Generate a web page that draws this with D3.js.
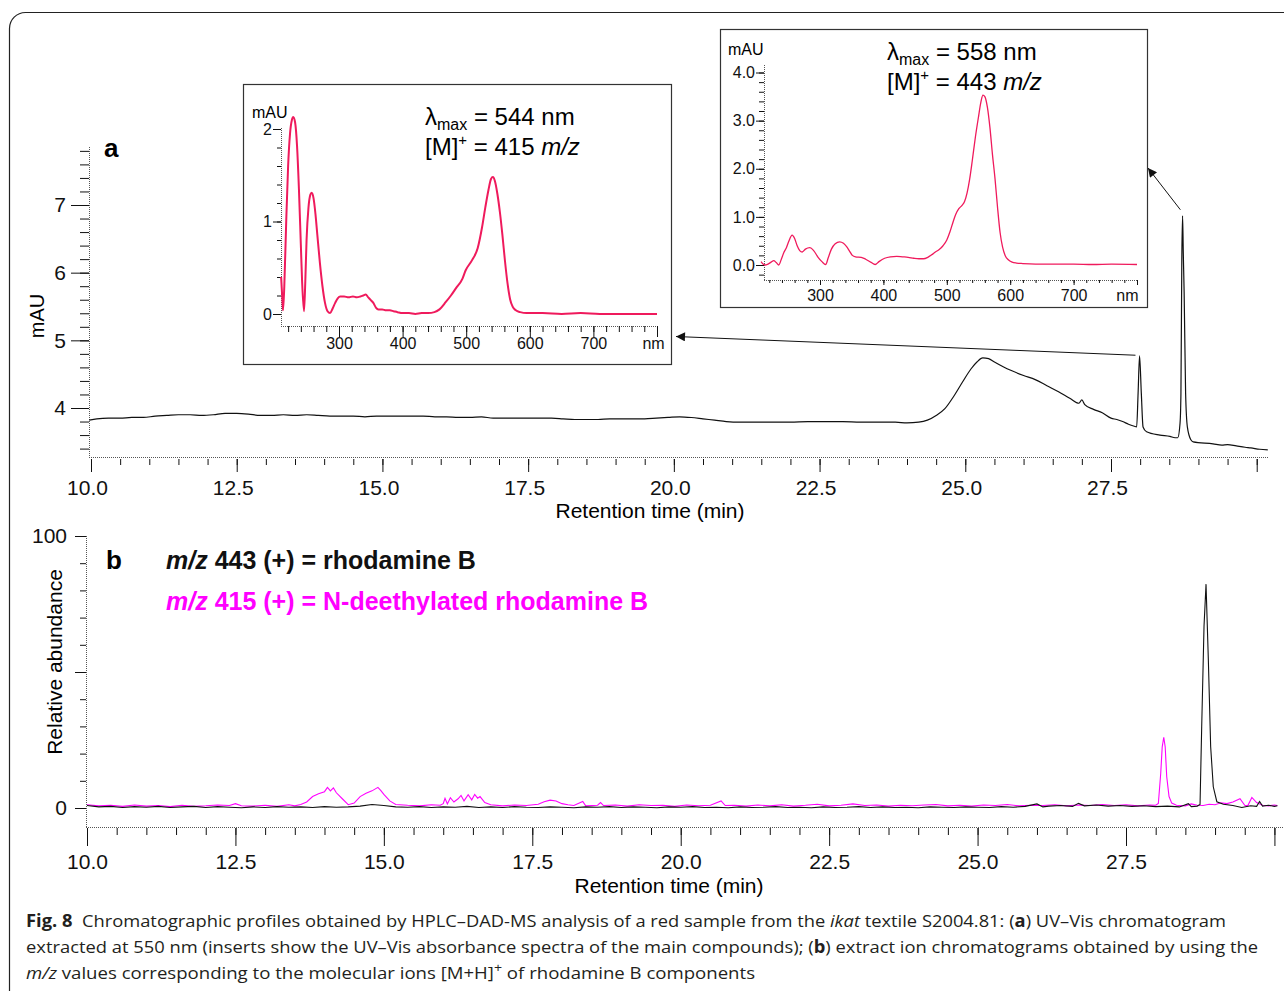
<!DOCTYPE html>
<html>
<head>
<meta charset="utf-8">
<script src="https://cdn.jsdelivr.net/npm/d3@7"></script>
<style>
  body { margin: 0; background: #fff; }
  svg { display: block; font-family: 'Liberation Sans', Arial, sans-serif; }
</style>
</head>
<body>
<script>
// (a) UV-Vis chromatogram at 550 nm: [retention time (min), mAU]
const chrom550 = [
  [9.97,3.82],[10.1,3.84],[10.3,3.85],[10.5,3.85],[10.7,3.86],[10.9,3.86],[11.1,3.88],[11.3,3.89],
  [11.5,3.90],[11.7,3.90],[11.9,3.89],[12.1,3.90],[12.3,3.92],[12.5,3.92],[12.7,3.91],[12.9,3.89],
  [13.1,3.89],[13.3,3.90],[13.5,3.89],[13.7,3.90],[13.9,3.89],[14.1,3.88],[14.3,3.88],[14.5,3.88],
  [14.7,3.87],[14.9,3.88],[15.1,3.88],[15.3,3.88],[15.5,3.88],[15.7,3.88],[15.9,3.87],[16.1,3.87],
  [16.3,3.86],[16.5,3.86],[16.7,3.87],[16.9,3.85],[17.1,3.85],[17.3,3.85],[17.5,3.85],[17.7,3.85],
  [17.9,3.85],[18.1,3.84],[18.3,3.83],[18.5,3.83],[18.7,3.83],[18.9,3.84],[19.1,3.84],[19.3,3.84],
  [19.5,3.84],[19.7,3.85],[19.9,3.86],[20.1,3.87],[20.3,3.86],[20.5,3.84],[20.7,3.82],[20.9,3.80],
  [21.1,3.79],[21.4,3.79],[21.7,3.79],[22.0,3.79],[22.3,3.80],[22.6,3.80],[22.9,3.80],[23.2,3.79],
  [23.5,3.79],[23.8,3.79],[24.0,3.78],[24.2,3.79],[24.35,3.82],[24.5,3.89],[24.65,3.99],[24.8,4.17],
  [24.95,4.38],[25.1,4.58],[25.2,4.68],[25.3,4.74],[25.4,4.73],[25.5,4.68],[25.65,4.61],[25.8,4.55],
  [26.0,4.48],[26.2,4.42],[26.4,4.33],[26.6,4.24],[26.8,4.14],[26.95,4.07],[27.0,4.12],[27.05,4.05],
  [27.2,3.98],[27.35,3.93],[27.5,3.85],[27.6,3.83],[27.7,3.80],[27.8,3.76],[27.9,3.73],[27.94,3.72],
  [27.965,4.22],[27.99,4.77],[28.02,4.22],[28.05,3.72],[28.11,3.65],[28.34,3.60],[28.51,3.58],
  [28.6,3.56],[28.645,3.56],[28.685,3.78],[28.70,4.22],[28.715,6.2],[28.728,6.84],[28.74,6.3],
  [28.755,5.7],[28.78,4.22],[28.81,3.72],[28.87,3.53],[28.91,3.50],[29.25,3.47],[29.4,3.45],
  [29.5,3.46],[29.65,3.44],[29.8,3.42],[29.9,3.41],[30.05,3.39],[30.19,3.38]
]

// insert spectra: [wavelength (nm), mAU]
const spec415 = [
  [209,0.40],[211,0.15],[212,0.04],[214,0.3],[217,1.0],[220,1.6],[223,1.95],[226,2.1],[228,2.13],
  [231,2.07],[234,1.82],[237,1.35],[240,0.75],[242,0.35],[245,0.03],[247,0.35],[249,0.8],[252,1.15],
  [255,1.29],[257,1.31],[260,1.25],[263,1.08],[266,0.85],[270,0.55],[274,0.3],[278,0.12],[282,0.03],
  [286,0.01],[290,0.06],[294,0.12],[298,0.17],[302,0.19],[308,0.19],[315,0.18],[322,0.19],[328,0.18],
  [334,0.19],[338,0.2],[342,0.21],[346,0.18],[350,0.15],[354,0.12],[358,0.07],[362,0.05],[368,0.05],
  [374,0.04],[380,0.04],[386,0.03],[392,0.02],[400,0.01],[410,0.01],[420,0.0],[430,0.01],[440,0.01],
  [450,0.02],[458,0.05],[468,0.13],[476,0.2],[484,0.28],[494,0.38],[499,0.47],[509,0.58],[518,0.71],
  [525,0.94],[530,1.15],[535,1.34],[539,1.46],[542,1.48],[545,1.44],[549,1.3],[553,1.1],[557,0.85],
  [561,0.57],[565,0.33],[569,0.16],[573,0.08],[578,0.04],[585,0.02],[595,0.01],[620,0.01],[650,0.0],
  [680,0.01],[710,0.0],[740,0.0],[770,0.0],[800,0.0]
]
const spec443 = [
  [207,0.07],[210,0.02],[213,0.0],[218,0.02],[223,0.06],[227,0.09],[231,0.05],[235,0.0],[239,0.12],
  [243,0.26],[247,0.36],[251,0.5],[256,0.62],[260,0.55],[264,0.4],[268,0.3],[272,0.27],[277,0.33],
  [284,0.36],[290,0.3],[297,0.16],[303,0.07],[309,0.01],[313,0.15],[318,0.33],[324,0.44],[331,0.48],
  [337,0.45],[342,0.38],[347,0.28],[351,0.2],[356,0.17],[365,0.16],[372,0.12],[380,0.06],[387,0.01],
  [393,0.07],[402,0.14],[411,0.17],[421,0.18],[430,0.17],[439,0.16],[448,0.14],[456,0.13],[463,0.13],
  [470,0.16],[476,0.21],[482,0.27],[488,0.32],[494,0.4],[500,0.52],[505,0.69],[510,0.9],[514,1.05],
  [519,1.17],[524,1.24],[528,1.32],[532,1.5],[536,1.78],[540,2.15],[545,2.65],[550,3.08],[554,3.4],
  [557,3.53],[560,3.5],[564,3.28],[568,2.86],[572,2.3],[576,1.8],[580,1.2],[584,0.68],[588,0.37],
  [592,0.2],[597,0.11],[603,0.06],[610,0.04],[620,0.03],[640,0.02],[670,0.02],[700,0.02],[730,0.01],
  [760,0.02],[800,0.01]
]

// (b) extracted ion chromatograms: [retention time (min), relative abundance]
const eic443 = [
  [10.0,0.9],[10.2,0.4],[10.4,0.6],[10.6,0.2],[10.8,0.5],[11.0,0.3],[11.2,0.6],[11.4,0.2],[11.6,0.4],
  [11.8,0.6],[12.0,0.2],[12.2,0.5],[12.4,0.3],[12.6,0.1],[12.8,0.4],[13.0,0.2],[13.2,0.5],[13.4,0.3],
  [13.6,0.4],[13.8,0.2],[14.0,0.5],[14.2,0.3],[14.4,0.4],[14.6,0.7],[14.8,1.3],[15.0,0.9],[15.2,0.4],
  [15.4,0.3],[15.6,0.5],[15.8,0.2],[16.0,0.4],[16.2,0.3],[16.4,0.6],[16.6,0.2],[16.8,0.4],[17.0,0.2],
  [17.2,0.5],[17.4,0.3],[17.6,0.2],[17.8,0.4],[18.0,0.3],[18.2,0.1],[18.4,0.4],[18.6,0.3],[18.8,0.5],
  [19.0,0.2],[19.2,0.4],[19.4,0.3],[19.6,0.1],[19.8,0.4],[20.0,0.3],[20.2,0.5],[20.4,0.2],[20.6,0.3],
  [20.8,0.1],[21.0,0.4],[21.2,0.2],[21.4,0.3],[21.6,0.5],[21.8,0.2],[22.0,0.3],[22.2,0.1],[22.4,0.4],
  [22.6,0.2],[22.8,0.3],[23.0,0.5],[23.2,0.2],[23.4,0.4],[23.6,0.2],[23.8,0.3],[24.0,0.1],[24.2,0.4],
  [24.4,0.3],[24.6,0.2],[24.8,0.4],[25.0,0.3],[25.2,0.2],[25.4,0.5],[25.6,0.3],[25.8,0.6],[26.0,1.5],
  [26.1,0.4],[26.2,0.7],[26.4,0.9],[26.6,0.6],[26.7,1.7],[26.8,0.8],[27.0,1.1],[27.2,0.7],[27.4,0.9],
  [27.6,0.6],[27.8,0.8],[28.0,0.5],[28.2,0.7],[28.4,0.4],[28.55,1.6],[28.6,0.5],[28.7,0.7],[28.747,1.3],
  [28.775,29.9],[28.814,66.7],[28.848,82.3],[28.887,54.4],[28.926,22.5],[28.97,7.8],[29.03,2.3],
  [29.14,1.4],[29.3,0.9],[29.45,0.2],[29.6,0.8],[29.7,0.6],[29.75,2.4],[29.8,0.7],[29.9,1.0],[30.0,0.6],
  [30.05,0.8]
]
const eic415 = [
  [10.0,1.2],[10.2,0.8],[10.4,1.0],[10.6,0.6],[10.8,1.1],[11.0,0.7],[11.2,0.9],[11.4,0.5],[11.6,1.0],
  [11.8,0.6],[12.0,0.8],[12.2,1.1],[12.4,0.9],[12.5,1.6],[12.6,0.8],[12.8,0.7],[13.0,1.0],[13.2,0.6],
  [13.4,1.2],[13.5,0.8],[13.6,1.3],[13.7,2.2],[13.8,4.2],[13.9,5.2],[14.0,6.0],[14.05,7.6],[14.1,6.3],
  [14.15,7.4],[14.2,5.6],[14.3,3.4],[14.4,1.2],[14.5,1.8],[14.6,4.2],[14.7,5.4],[14.8,6.3],[14.9,7.6],
  [14.95,6.4],[15.0,5.0],[15.1,2.6],[15.2,1.3],[15.4,1.0],[15.6,0.8],[15.8,1.2],[15.95,1.0],[16.0,1.6],
  [16.03,3.6],[16.07,1.5],[16.12,3.8],[16.18,2.2],[16.25,3.4],[16.3,4.6],[16.35,2.6],[16.42,4.9],
  [16.48,3.0],[16.53,5.0],[16.58,3.6],[16.62,4.2],[16.7,2.0],[16.8,1.2],[17.0,0.8],[17.2,1.1],[17.4,0.9],
  [17.6,1.4],[17.7,2.3],[17.8,2.9],[17.9,2.6],[18.0,1.6],[18.1,1.2],[18.2,0.9],[18.35,2.4],[18.4,0.8],
  [18.6,1.0],[18.65,2.0],[18.7,0.9],[18.9,1.1],[19.1,0.7],[19.3,1.2],[19.5,0.9],[19.7,1.0],[19.9,0.6],
  [20.1,1.1],[20.3,0.8],[20.5,1.0],[20.68,2.6],[20.75,0.9],[20.9,1.0],[21.1,0.7],[21.3,1.1],[21.5,0.8],
  [21.7,1.2],[21.9,0.7],[22.1,1.0],[22.3,1.4],[22.5,0.8],[22.7,1.0],[22.9,1.5],[23.1,0.9],[23.3,1.1],
  [23.5,0.7],[23.7,1.0],[23.9,0.8],[24.1,1.1],[24.3,1.3],[24.5,0.8],[24.7,1.0],[24.9,0.7],[25.1,1.1],
  [25.3,0.9],[25.5,1.3],[25.7,0.8],[25.9,1.0],[26.1,0.9],[26.3,1.2],[26.5,0.8],[26.7,1.1],[26.9,0.9],
  [27.1,1.3],[27.3,0.9],[27.5,1.2],[27.7,0.8],[27.9,1.1],[28.0,1.0],[28.045,1.7],[28.085,12.8],
  [28.11,22.5],[28.136,26.0],[28.16,22.5],[28.186,11.5],[28.225,4.2],[28.27,1.8],[28.35,1.0],[28.5,0.8],
  [28.6,1.5],[28.7,1.0],[28.8,0.9],[28.9,1.4],[29.0,1.2],[29.1,1.9],[29.2,1.6],[29.3,2.2],[29.42,3.4],
  [29.5,1.0],[29.55,0.8],[29.62,3.9],[29.7,2.0],[29.8,1.0],[29.9,0.8],[30.0,1.1],[30.05,0.9]
]

// tick values
const timeMajor = [10, 12.5, 15, 17.5, 20, 22.5, 25, 27.5, 30]
const timeMinor = d3.range(10, 30.01, 0.5)
const mauMajor = [4, 5, 6, 7]
const abundMajor = [0, 50, 100]
const nmMajor = [300, 400, 500, 600, 700, 800]
const nmMinor = d3.range(220, 801, 20)

const pink = '#ef1a5c'
const magenta = '#ff00ff'

const svg = d3.select('body').append('svg')
  .attr('width', 1284)
  .attr('height', 991)

// outer rounded frame (runs off the right and bottom edge)
svg.append('rect')
  .attr('x', 9.5).attr('y', 12.5)
  .attr('width', 1400).attr('height', 1100)
  .attr('rx', 16)
  .attr('fill', 'none').attr('stroke', '#222').attr('stroke-width', 1.2)

function addTicks(g, orient, scale, values, size, opts = {}) {
  const gen = orient(scale).tickValues(values).tickSize(size).tickPadding(opts.pad ?? 2)
    .tickFormat(opts.format || (() => ''))
  const a = g.append('g').attr('transform', opts.shift).call(gen)
  a.select('.domain').remove()
  a.attr('font-family', null).attr('font-size', opts.fs || 16)
  a.selectAll('.tick line').attr('stroke', '#111')
  a.selectAll('.tick text').attr('fill', '#111')
  return a
}

function dotted(g, x1, y1, x2, y2) {
  g.append('line')
    .attr('x1', x1).attr('y1', y1).attr('x2', x2).attr('y2', y2)
    .attr('stroke', '#555').attr('stroke-width', 1).attr('stroke-dasharray', '1 1')
}

const fmt1 = d3.format('.1f')

// ---------- panel a ----------
const xA = d3.scaleLinear([10, 27.5], [91, 1111])
const yA = d3.scaleLinear([4, 7], [408, 205])
const pa = svg.append('g')

dotted(pa, 89.5, 147, 89.5, 458)
dotted(pa, 89, 457.5, 1268, 457.5)

addTicks(pa, d3.axisLeft, yA, d3.range(3.4, 7.81, 0.2), 9, {shift: 'translate(89,0)'})
addTicks(pa, d3.axisLeft, yA, mauMajor, 18, {shift: 'translate(89,0)', pad: 5, fs: 21, format: d3.format('d')})
addTicks(pa, d3.axisBottom, xA, timeMinor, 6, {shift: 'translate(0,459)'})
addTicks(pa, d3.axisBottom, xA, timeMajor, 13, {shift: 'translate(0,459)', pad: 8, fs: 21,
  format: d => d === 30 ? '' : fmt1(d)})
  .selectAll('.tick text').attr('dx', -4)

pa.append('text').attr('transform', 'translate(44,316) rotate(-90)')
  .attr('text-anchor', 'middle').attr('font-size', 20).text('mAU')
pa.append('text').attr('x', 650).attr('y', 518).attr('text-anchor', 'middle')
  .attr('font-size', 21).text('Retention time (min)')
pa.append('text').attr('x', 104).attr('y', 157).attr('font-size', 26).attr('font-weight', 'bold').text('a')

pa.append('path').datum(chrom550)
  .attr('fill', 'none').attr('stroke', '#111').attr('stroke-width', 1.2)
  .attr('stroke-linejoin', 'round')
  .attr('d', d3.line().x(d => xA(d[0])).y(d => yA(d[1])).curve(d3.curveMonotoneX))

// arrows from the two peaks to their spectra
const defs = svg.append('defs')
defs.append('marker').attr('id', 'head')
  .attr('viewBox', '0 0 10 10').attr('refX', 10).attr('refY', 5)
  .attr('markerWidth', 13).attr('markerHeight', 9).attr('markerUnits', 'userSpaceOnUse')
  .attr('orient', 'auto')
  .append('path').attr('d', 'M0,0L10,5L0,10z').attr('fill', '#111')

pa.append('line')
  .attr('x1', xA(27.92)).attr('y1', yA(4.78)).attr('x2', 676).attr('y2', 336.5)
  .attr('stroke', '#111').attr('stroke-width', 1).attr('marker-end', 'url(#head)')
pa.append('line')
  .attr('x1', xA(28.69)).attr('y1', yA(6.93)).attr('x2', 1148).attr('y2', 168)
  .attr('stroke', '#111').attr('stroke-width', 1).attr('marker-end', 'url(#head)')

// ---------- inserts ----------
function insert(box, xS, yS, data, o) {
  const g = svg.append('g')
  g.append('rect').attr('x', box[0]).attr('y', box[1]).attr('width', box[2]).attr('height', box[3])
    .attr('fill', '#fff').attr('stroke', '#333').attr('stroke-width', 1.2)
  dotted(g, o.ax + 0.5, o.top, o.ax + 0.5, o.ay)
  dotted(g, o.ax, o.ay + 0.5, xS(800) + 1, o.ay + 0.5)
  addTicks(g, d3.axisLeft, yS, o.yMinor, o.yt[1], {shift: `translate(${o.ax},0)`})
  addTicks(g, d3.axisLeft, yS, o.yMajor, o.yt[0], {shift: `translate(${o.ax},0)`, pad: 1, fs: 16, format: o.yFmt})
  addTicks(g, d3.axisBottom, xS, nmMinor, o.xt[1], {shift: `translate(0,${o.ay})`})
  const xa = addTicks(g, d3.axisBottom, xS, nmMajor, o.xt[0], {shift: `translate(0,${o.ay})`, pad: o.xpad, fs: 16,
    format: d => d === 800 ? 'nm' : d})
  xa.selectAll('.tick text').filter(d => d === 800)
    .attr('text-anchor', o.nm[0]).attr('dx', o.nm[1])
  g.append('text').attr('x', o.mau[0]).attr('y', o.mau[1]).attr('font-size', 16).text('mAU')

  g.append('path').datum(data)
    .attr('fill', 'none').attr('stroke', pink).attr('stroke-width', o.sw)
    .attr('stroke-linejoin', 'round')
    .attr('d', d3.line().x(d => xS(d[0])).y(d => yS(d[1])).curve(d3.curveMonotoneX))

  const t1 = g.append('text').attr('x', o.txt[0]).attr('y', o.txt[1]).attr('font-size', 24)
  t1.append('tspan').text('λ')
  t1.append('tspan').attr('font-size', 16).attr('dy', 5).text('max')
  t1.append('tspan').attr('dy', -5).text(` = ${o.lmax} nm`)
  const t2 = g.append('text').attr('x', o.txt[0]).attr('y', o.txt[1] + 30).attr('font-size', 24)
  t2.append('tspan').text('[M]')
  t2.append('tspan').attr('font-size', 15).attr('dy', -10).text('+')
  t2.append('tspan').attr('dy', 10).text(` = ${o.mz} `)
  t2.append('tspan').attr('font-style', 'italic').text('m/z')
}

insert([243.5, 84.5, 428, 280],
  d3.scaleLinear([300, 800], [339, 657]), d3.scaleLinear([0, 2], [314, 129]), spec415,
  {ax: 281, ay: 326, top: 128, yMajor: [0, 1, 2], yMinor: d3.range(0, 2.01, 0.2), yt: [8, 4],
   xt: [11, 6], xpad: 1, yFmt: d3.format('d'), mau: [252, 118], txt: [425, 125],
   lmax: 544, mz: 415, sw: 2, nm: ['middle', -4]})

insert([720.5, 29.5, 427, 278],
  d3.scaleLinear([300, 800], [820, 1137]), d3.scaleLinear([0, 4], [265, 72.5]), spec443,
  {ax: 764, ay: 280, top: 65, yMajor: [0, 1, 2, 3, 4], yMinor: d3.range(-0.2, 4.01, 0.2), yt: [8, 5],
   xt: [5, 3], xpad: 5, yFmt: fmt1, mau: [728, 55], txt: [887, 60],
   lmax: 558, mz: 443, sw: 1.3, nm: ['end', 1]})

// ---------- panel b ----------
const xB = d3.scaleLinear([10, 27.5], [87, 1126])
const yB = d3.scaleLinear([0, 100], [808, 536])
const pb = svg.append('g')

dotted(pb, 86.5, 536, 86.5, 828)
dotted(pb, 86, 827.5, 1284, 827.5)

addTicks(pb, d3.axisLeft, yB, d3.range(0, 101, 10), 6, {shift: 'translate(86,0)'})
addTicks(pb, d3.axisLeft, yB, abundMajor, 11, {shift: 'translate(86,0)', pad: 8, fs: 21,
  format: d => d === 50 ? '' : d})
addTicks(pb, d3.axisBottom, xB, timeMinor, 7, {shift: 'translate(0,828)'})
addTicks(pb, d3.axisBottom, xB, timeMajor, 18, {shift: 'translate(0,828)', pad: 8, fs: 21,
  format: d => d === 30 ? '' : fmt1(d)})

pb.append('text').attr('transform', 'translate(62,662) rotate(-90)')
  .attr('text-anchor', 'middle').attr('font-size', 21).text('Relative abundance')
pb.append('text').attr('x', 669).attr('y', 893).attr('text-anchor', 'middle')
  .attr('font-size', 21).text('Retention time (min)')
pb.append('text').attr('x', 106).attr('y', 569).attr('font-size', 26).attr('font-weight', 'bold').text('b')

const lineB = d3.line().x(d => xB(d[0])).y(d => yB(d[1]))
pb.append('path').datum(eic415)
  .attr('fill', 'none').attr('stroke', magenta).attr('stroke-width', 1.1).attr('d', lineB)
pb.append('path').datum(eic443)
  .attr('fill', 'none').attr('stroke', '#111').attr('stroke-width', 1.1).attr('d', lineB)

const legend = [
  {num: '443', name: 'rhodamine B', color: '#111', y: 569},
  {num: '415', name: 'N-deethylated rhodamine B', color: magenta, y: 610}
]
legend.forEach(l => {
  const t = pb.append('text').attr('x', 166).attr('y', l.y)
    .attr('font-size', 25).attr('font-weight', 'bold').attr('fill', l.color)
  t.append('tspan').attr('font-style', 'italic').text('m/z')
  t.append('tspan').text(` ${l.num} (+) = ${l.name}`)
})

// ---------- caption ----------
const caption = [
  {w: 1200, parts: [['Fig. 8', 'b'], ['  Chromatographic profiles obtained by HPLC–DAD-MS analysis of a red sample from the '], ['ikat', 'i'],
    [' textile S2004.81: ('], ['a', 'b'], [') UV–Vis chromatogram']]},
  {w: 1232, parts: [['extracted at 550 nm (inserts show the UV–Vis absorbance spectra of the main compounds); ('], ['b', 'b'],
    [') extract ion chromatograms obtained by using the']]},
  {w: 729, parts: [['m/z', 'i'], [' values corresponding to the molecular ions [M+H]'], ['+', 'sup'], [' of rhodamine B components', 'down']]}
]
const cap = svg.append('g').attr('font-family', "'Open Sans', 'Noto Sans', sans-serif")
  .attr('font-size', 17).attr('fill', '#231f20')
caption.forEach((line, i) => {
  const t = cap.append('text').attr('x', 26).attr('y', 927 + i * 26)
    .attr('textLength', line.w).attr('lengthAdjust', 'spacingAndGlyphs')
    .style('white-space', 'pre')
  line.parts.forEach(([s, k]) => {
    const sp = t.append('tspan').text(s)
    if (k === 'b') sp.attr('font-weight', 'bold')
    if (k === 'i') sp.attr('font-style', 'italic')
    if (k === 'sup') sp.attr('dy', -7).attr('font-size', 13)
    if (k === 'down') sp.attr('dy', 7)
  })
})
</script>
</body>
</html>
